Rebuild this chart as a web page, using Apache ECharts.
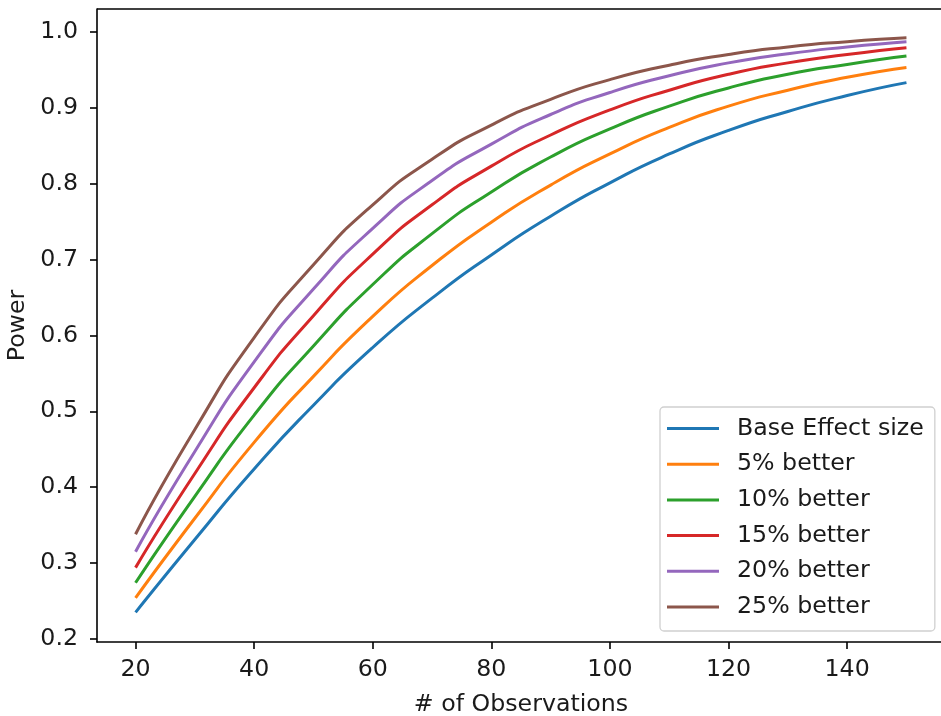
<!DOCTYPE html>
<html>
<head>
<meta charset="utf-8">
<script src="https://cdn.jsdelivr.net/npm/echarts@6/dist/echarts.min.js"></script>
<style>
  html, body { margin: 0; padding: 0; background: #fff; }
  #chart { width: 941px; height: 716px; }
</style>
</head>
<body>
<div id="chart"></div>
<script>
// Sample sizes (number of observations)
const observations = [20, 30, 40, 50, 60, 70, 80, 90, 100, 110, 120, 130, 140, 150];

// Statistical power for each effect size
const powerBase = [0.235, 0.331, 0.424, 0.508, 0.584, 0.649, 0.706, 0.757, 0.801, 0.839, 0.870, 0.895, 0.916, 0.933];
const power5    = [0.254, 0.359, 0.459, 0.546, 0.625, 0.692, 0.749, 0.798, 0.839, 0.874, 0.902, 0.923, 0.940, 0.953];
const power10   = [0.274, 0.388, 0.495, 0.586, 0.667, 0.734, 0.789, 0.835, 0.872, 0.902, 0.926, 0.944, 0.957, 0.968];
const power15   = [0.294, 0.418, 0.531, 0.626, 0.707, 0.772, 0.823, 0.864, 0.897, 0.923, 0.944, 0.959, 0.970, 0.979];
const power20   = [0.315, 0.447, 0.565, 0.661, 0.741, 0.804, 0.852, 0.891, 0.920, 0.942, 0.959, 0.971, 0.980, 0.987];
const power25   = [0.338, 0.476, 0.597, 0.693, 0.772, 0.832, 0.877, 0.911, 0.937, 0.956, 0.970, 0.980, 0.987, 0.992];

const seriesNames = ['Base Effect size', '5% better', '10% better', '15% better', '20% better', '25% better'];
const seriesValues = [powerBase, power5, power10, power15, power20, power25];
const colors = ['#1f77b4', '#ff7f0e', '#2ca02c', '#d62728', '#9467bd', '#8c564b'];

const xTicks = [20, 40, 60, 80, 100, 120, 140];
const yTicks = [0.2, 0.3, 0.4, 0.5, 0.6, 0.7, 0.8, 0.9, 1.0];

const X_MIN = 13.5, X_MAX = 156.5;
const Y_MIN = 0.196, Y_MAX = 1.03;

const FONT = 'DejaVu Sans';
const FS = 23.7;
const TEXT = '#1a1a1a';

const chart = echarts.init(document.getElementById('chart'), null, { renderer: 'canvas' });

chart.setOption({
  animation: false,
  backgroundColor: '#ffffff',
  color: colors,
  grid: { left: 97, right: -4, top: 9, bottom: 74, show: false, outerBoundsMode: 'none', containLabel: false },
  xAxis: {
    type: 'value',
    min: X_MIN,
    max: X_MAX,
    name: '# of Observations',
    nameLocation: 'middle',
    nameGap: 51,
    nameTextStyle: { fontFamily: FONT, fontSize: FS, color: TEXT },
    axisLine: { show: true, onZero: false, lineStyle: { color: '#000', width: 1.6 } },
    axisTick: { show: true, length: 7, customValues: xTicks, lineStyle: { color: '#000', width: 1.6 } },
    axisLabel: {
      customValues: xTicks,
      margin: 16,
      fontFamily: FONT, fontSize: FS, color: TEXT
    },
    splitLine: { show: false }
  },
  yAxis: {
    type: 'value',
    min: Y_MIN,
    max: Y_MAX,
    name: 'Power',
    nameLocation: 'middle',
    nameGap: 65,
    nameRotate: 90,
    nameTextStyle: { fontFamily: FONT, fontSize: FS, color: TEXT },
    axisLine: { show: true, onZero: false, lineStyle: { color: '#000', width: 1.6 } },
    axisTick: { show: true, length: 7, customValues: yTicks, lineStyle: { color: '#000', width: 1.6 } },
    axisLabel: {
      customValues: yTicks,
      margin: 19,
      fontFamily: FONT, fontSize: FS, color: TEXT,
      formatter: v => v.toFixed(1)
    },
    splitLine: { show: false }
  },
  legend: {
    orient: 'vertical',
    left: 660,
    top: 407,
    padding: [8.5, 11, 11, 7],
    itemGap: 9.7,
    itemWidth: 52,
    itemHeight: 3,
    icon: 'rect',
    backgroundColor: '#ffffff',
    borderColor: '#d0d0d0',
    borderWidth: 1.3,
    borderRadius: 4,
    textStyle: { fontFamily: FONT, fontSize: FS, color: TEXT, lineHeight: 26, padding: [0, 0, 0, 13] },
    data: seriesNames
  },
  series: seriesNames.map((name, i) => ({
    name,
    type: 'line',
    data: observations.map((n, j) => [n, seriesValues[i][j]]),
    smooth: 0.6,
    showSymbol: false,
    symbol: 'none',
    lineStyle: { width: 3, color: colors[i] },
    z: 2 + i
  }))
});

// Top spine of the plot frame, placed from the grid's pixel coordinates
const topLeft = chart.convertToPixel({ gridIndex: 0 }, [X_MIN, Y_MAX]);
const topRight = chart.convertToPixel({ gridIndex: 0 }, [X_MAX, Y_MAX]);
chart.setOption({
  graphic: [
    { type: 'line', shape: { x1: topLeft[0], y1: topLeft[1], x2: topRight[0], y2: topRight[1] },
      style: { stroke: '#000', lineWidth: 1.6 }, z: 10 }
  ]
});
</script>
</body>
</html>
